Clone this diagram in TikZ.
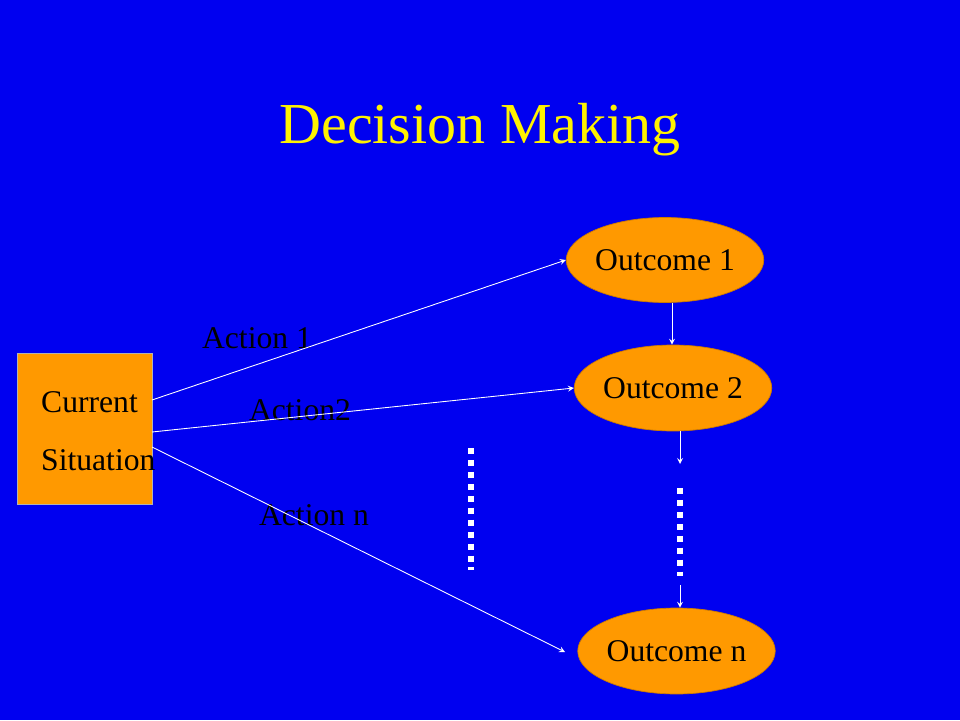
\documentclass[tikz,border=0pt]{standalone}
\usepackage{fontspec}
\setmainfont{Liberation Serif}
\usetikzlibrary{shapes,arrows,positioning}
\definecolor{slideblue}{RGB}{0,0,240}
\definecolor{boxorange}{RGB}{255,153,0}
\begin{document}
\begin{tikzpicture}
[x=0.02cm,y=-0.02cm,->,>=stealth,
 outcome/.style={ellipse,fill=boxorange,draw=boxorange!80!black,inner sep=0pt,font=\fontsize{18}{20}\selectfont},
 action/.style={font=\fontsize{18}{20}\selectfont,text=black},
 arrowline/.style={draw=white,line width=0.5pt},
 dotline/.style={-,draw=white,line width=3.4pt,dash pattern=on 3.4pt off 3.4pt}]

  \fill[slideblue] (0,0) rectangle (960,720);
  \node (title) at (480,130) [text=yellow,font=\fontsize{33}{36}\selectfont] {Decision Making};

  \node (current) at (84.5,428.5) [draw=gray!60,fill=boxorange,minimum width=135\pgflinewidth*0+2.7cm,minimum height=3.02cm,inner sep=0pt] {};
  \node (currentA) at (35,402) [anchor=west,action] {Current};
  \node (currentB) at (35,460) [anchor=west,action] {Situation};

  \node (out1) at (665,260) [outcome,minimum width=3.48cm,minimum height=1.7cm] {Outcome 1};
  \node (out2) at (673,388) [outcome,minimum width=3.8cm,minimum height=1.72cm] {Outcome 2};
  \node (outn) at (676.5,651) [outcome,minimum width=3.94cm,minimum height=1.72cm] {Outcome n};

  \node (act1) at (257,338) [action] {Action 1};
  \node (act2) at (300,410) [action] {Action2};
  \node (actn) at (314,515) [action] {Action n};

  \draw[arrowline] (152,400) -- (out1.west);
  \draw[arrowline] (152,432) -- (out2.west);
  \draw[arrowline] (152,447) -- (565,652);
  \draw[arrowline] (out1.south -| 672,0) -- (out2.north -| 672,0);

  \coordinate (dotTop) at (680,488);
  \coordinate (dotBot) at (680,576);
  \draw[arrowline] (680,431) -- (680,464);
  \draw[dotline] (dotTop) -- (dotBot);
  \draw[arrowline] (680,585) -- (outn.north -| 680,0);
  \draw[dotline] (471,448) -- (471,570);

\end{tikzpicture}
\end{document}
